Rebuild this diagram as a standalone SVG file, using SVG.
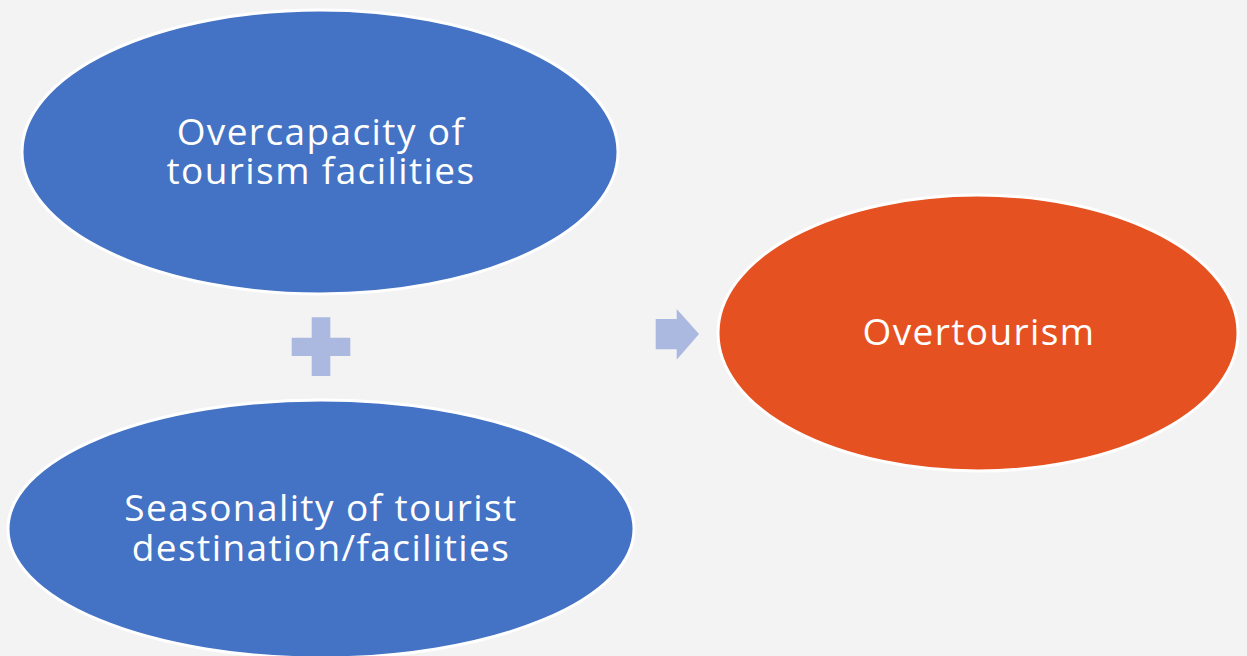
<svg xmlns="http://www.w3.org/2000/svg" width="1247" height="656" viewBox="0 0 1247 656">
  <style>
    .node { stroke: #ffffff; stroke-width: 3; }
    .blue { fill: #4472C4; }
    .orange { fill: #E65121; }
    .label { font-family: "Open Sans", "Liberation Sans", sans-serif; font-size: 37px; letter-spacing: 1.4px; fill: #ffffff; text-anchor: middle; }
    .sym { fill: #ABB9E0; }
  </style>
  <rect width="1247" height="656" fill="#F3F3F3"/>

  <g id="node-overcapacity">
    <ellipse class="node blue" cx="320" cy="152" rx="298" ry="142"/>
    <text class="label" x="321" y="145">Overcapacity of</text>
    <text class="label" x="321" y="184">tourism facilities</text>
  </g>

  <g id="node-seasonality">
    <ellipse class="node blue" cx="321" cy="529" rx="313" ry="129"/>
    <text class="label" x="321" y="521">Seasonality of tourist</text>
    <text class="label" x="321" y="561">destination/facilities</text>
  </g>

  <g id="node-overtourism">
    <ellipse class="node orange" cx="978" cy="333" rx="260" ry="138"/>
    <text class="label" x="979" y="345">Overtourism</text>
  </g>

  <g id="connectors">
    <!-- plus sign joining the two causes -->
    <path class="sym" d="M311.7 317.3 H330.3 V337.7 H350.3 V356 H330.3 V376 H311.7 V356 H291.7 V337.7 H311.7 Z"/>
    <!-- arrow pointing to the result -->
    <path class="sym" d="M655.7 319 H676.7 V309 L699 334 L676.7 359.7 V349.3 H655.7 Z"/>
  </g>
</svg>
